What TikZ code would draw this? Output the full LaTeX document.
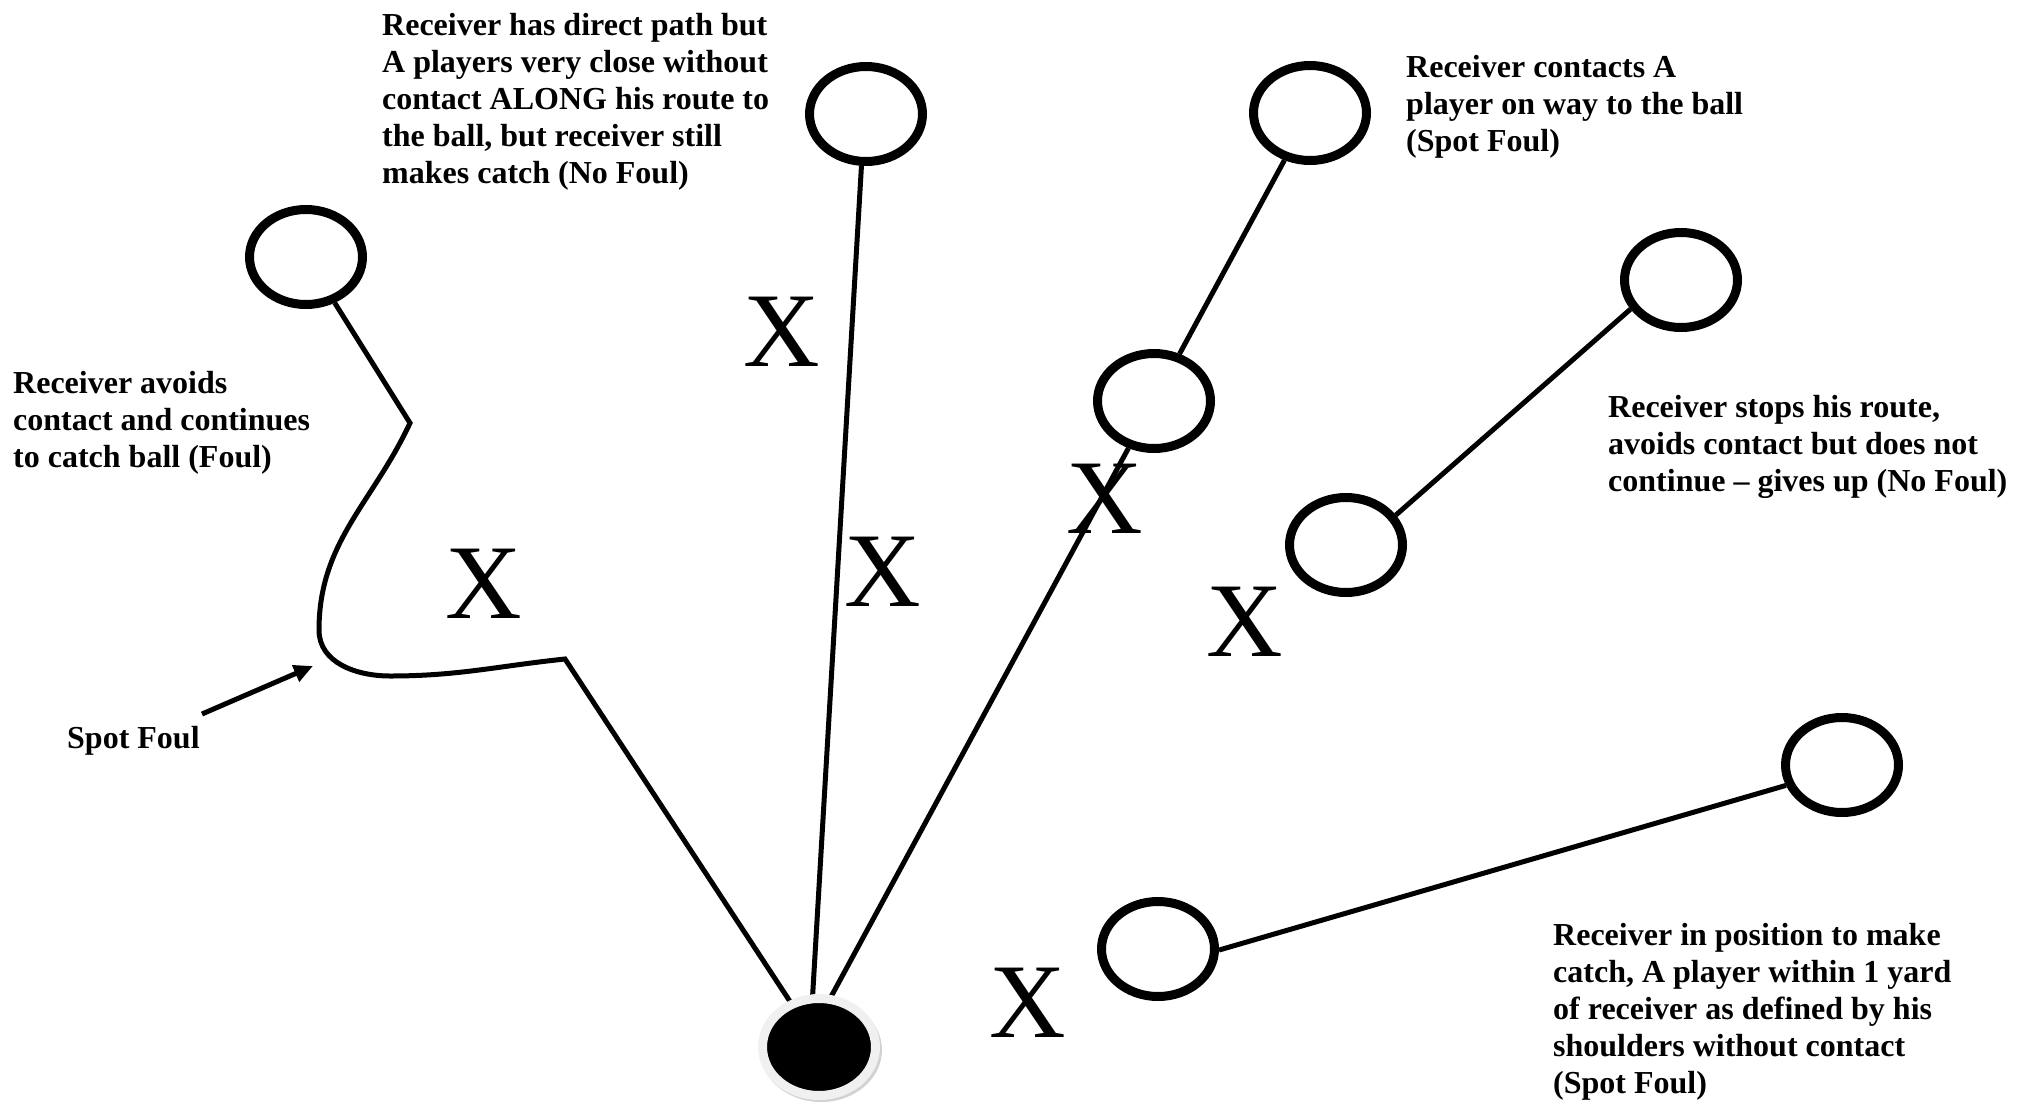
\documentclass[tikz,border=0pt]{standalone}
\usepackage{fontspec}
\setmainfont{Liberation Serif}
\usetikzlibrary{shapes.geometric,arrows.meta,calc}
\begin{document}
\begin{tikzpicture}[x=1pt,y=-1pt,
  rcv/.style={ellipse,draw=black,line width=9pt,minimum width=113pt,minimum height=95pt,inner sep=0pt},
  route/.style={line width=5pt,line join=miter},
  lbl/.style={font=\fontsize{32}{37}\selectfont\bfseries,align=left,anchor=base west,inner sep=0pt},
  defx/.style={font=\fontsize{106}{106}\selectfont,inner sep=0pt}
]
\useasboundingbox (0,0) rectangle (2022,1103);

% receivers
\node[rcv] (c1) at (306,257) {};
\node[rcv] (c2) at (866,114) {};
\node[rcv] (c3) at (1310,113) {};
\node[rcv] (c4) at (1154,401) {};
\node[rcv] (c5) at (1681,280) {};
\node[rcv] (c6) at (1346,545) {};
\node[rcv] (c7) at (1842,765) {};
\node[rcv] (c8) at (1158,949) {};

% ball contact points
\coordinate (b1) at (793,1006);
\coordinate (b2) at (812,1006);
\coordinate (b3) at (826,1006);
\coordinate (k1) at (410,423);
\coordinate (k2) at (565,659);
\coordinate (bend1) at (319,630);
\coordinate (bend2) at (390,676);

% routes
\draw[route] (c1) -- (k1) to[out=-115,in=90] (bend1) to[out=-90,in=180] (bend2) to[out=0,in=186] (k2) -- (b1);
\draw[route] (c2.-95) -- (b2);
\draw[route] (b3) -- (c4);
\draw[route] (c4) -- (c3);
\draw[route] (c6.31) -- (c5.210);
\draw[route] (c8.-1) -- (c7.200);

% ball
\node[ellipse,fill=gray!35,minimum width=122pt,minimum height=104pt,inner sep=0pt] (ballshadow) at (821,1050) {};
\node[ellipse,fill=black,draw=gray!12,line width=9pt,minimum width=113pt,minimum height=97pt,inner sep=0pt] (ball) at (819,1047) {};

% defenders
\node[defx] (x1) at (484,584) {X};
\node[defx] (x2) at (782,332) {X};
\node[defx] (x3) at (883,572) {X};
\node[defx] (x4) at (1105,499) {X};
\node[defx] (x5) at (1245,622) {X};
\node[defx] (x6) at (1028,1003) {X};

% spot foul arrow
\coordinate (ar1) at (202,714);
\coordinate (ar2) at (313,666);
\draw[line width=5pt,-{Triangle[length=19pt,width=17pt]}] (ar1) -- (ar2);

% labels (anchored at the baseline of their last line)
\node[lbl] (t1) at (382,183) {Receiver has direct path but\\A players very close without\\contact ALONG his route to\\the ball, but receiver still\\makes catch (No Foul)};
\node[lbl] (t2) at (13,467) {Receiver avoids\\contact and continues\\to catch ball (Foul)};
\node[lbl] (t3) at (1406,151) {Receiver contacts A\\player on way to the ball\\(Spot Foul)};
\node[lbl] (t4) at (1608,491) {Receiver stops his route,\\avoids contact but does not\\continue – gives up (No Foul)};
\node[lbl] (t5) at (1553,1093) {Receiver in position to make\\catch, A player within 1 yard\\of receiver as defined by his\\shoulders without contact\\(Spot Foul)};
\node[lbl] (t6) at (67,748) {Spot Foul};
\end{tikzpicture}
\end{document}
